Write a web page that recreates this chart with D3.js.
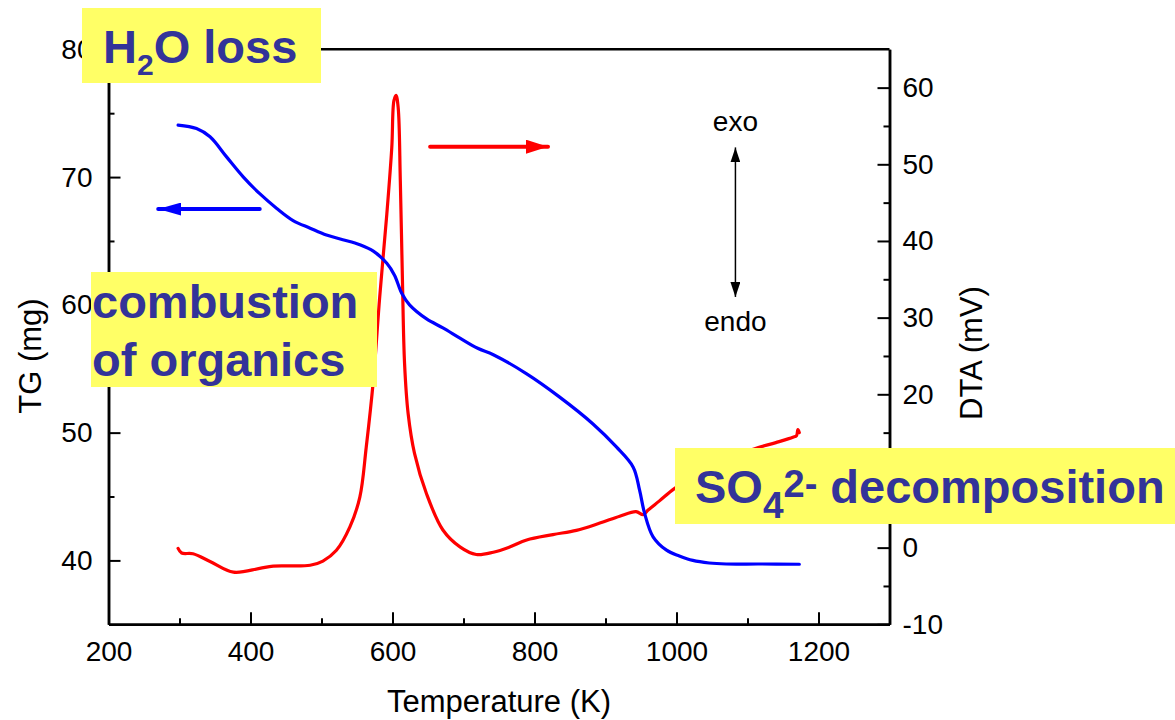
<!DOCTYPE html>
<html>
<head>
<meta charset="utf-8">
<script src="https://cdn.jsdelivr.net/npm/d3@7"></script>
<style>
  body { margin: 0; background: #fff; }
  svg { display: block; font-family: "Liberation Sans", Arial, sans-serif; }
  .axis path { stroke: #000; stroke-width: 2.5; }
  .axis line { stroke: #000; stroke-width: 2; }
  .axis text { font-size: 28px; fill: #000; }
  .note-box { fill: #ffff66; }
  .note { font-weight: bold; fill: #333399; font-size: 47px; }
</style>
</head>
<body>
<svg id="chart" width="1175" height="720"></svg>
<script>
// TG curve (K, mg)
const tgTemp = [298, 324, 343, 366, 390, 413, 437, 460, 484, 507, 530, 554, 573, 592, 603, 613,
  624, 648, 671, 695, 720, 742, 789, 835, 882, 915, 939, 948, 955, 967, 986, 1004, 1023, 1046,
  1070, 1117, 1173];
const tgMass = [74.07, 73.8, 73.15, 71.6, 70.0, 68.7, 67.55, 66.6, 66.0, 65.46, 65.1, 64.7, 64.2,
  63.25, 62.3, 60.9, 60.0, 58.9, 58.2, 57.4, 56.6, 56.1, 54.6, 52.8, 50.7, 48.9, 47.3, 45.5, 43.7,
  41.85, 40.8, 40.35, 40.0, 39.8, 39.72, 39.72, 39.7];

// DTA curve (K, mV)
const dtaTemp = [298, 303, 319, 343, 376, 413, 432, 484, 502, 521, 540, 554, 563, 573, 582, 592,
  599, 602, 605, 608, 611, 614, 617, 622, 631, 648, 671, 695, 718, 742, 765, 789, 826, 859, 892,
  920, 943, 953, 960, 976, 997, 1030, 1070, 1107, 1140, 1164, 1169, 1171, 1173];
const dtaSignal = [-0.1, -0.7, -0.8, -1.8, -3.2, -2.7, -2.4, -2.3, -1.75, -0.35, 2.7, 6.6, 13.1,
  21.8, 32.7, 43.5, 52.2, 58.3, 59.0, 57.4, 47.9, 34.9, 24.0, 17.5, 12.3, 7.0, 2.3, 0.1, -0.9, -0.6,
  0.08, 1.0, 1.7, 2.25, 3.2, 4.1, 4.7, 4.3, 4.9, 6.1, 7.7, 9.6, 11.3, 12.8, 13.7, 14.4, 14.6, 15.4,
  15.0];

// ticks
const xMajor = [200, 400, 600, 800, 1000, 1200];
const xMinor = [300, 500, 700, 900, 1100];
const tgMajor = [40, 50, 60, 70, 80];
const tgMinor = [45, 55, 65, 75];
const dtaMajor = [-10, 0, 10, 20, 30, 40, 50, 60];
const dtaMinor = [-5, 5, 15, 25, 35, 45, 55];

// direction arrows, in data units
const tgArrowT = [413, 270], tgArrowY = 67.5;
const dtaArrowT = [653, 819], dtaArrowY = 52.3;
const exoArrowT = 1083, exoArrowY = [52.2, 32.7];

const svg = d3.select('#chart');
const L = 108.5, R = 889.5, T = 49.3, B = 624.3;
const plain = d => String(d);   // "1000", "-10" like the original

const x = d3.scaleLinear().domain([200, 1300]).range([L, R]);
const yTG = d3.scaleLinear().domain([35, 80]).range([B, T]);
const yDTA = d3.scaleLinear().domain([-10, 65]).range([B, T]);

// — markers ————————————————————————————————————————
const defs = svg.append('defs');
function marker(id, color, w, h) {
  defs.append('marker')
    .attr('id', id)
    .attr('viewBox', `0 0 ${w} ${h}`)
    .attr('refX', w).attr('refY', h / 2)
    .attr('markerUnits', 'userSpaceOnUse')
    .attr('markerWidth', w).attr('markerHeight', h)
    .attr('orient', 'auto-start-reverse')
    .append('path')
    .attr('d', `M0,0L${w},${h / 2}L0,${h}Z`)
    .attr('fill', color);
}
marker('headBlue', '#0000ff', 23, 13);
marker('headRed', '#ff0000', 22, 14);
marker('headBlack', '#000', 15, 10);

// — axes ————————————————————————————————————————————
svg.append('g').attr('class', 'axis')
  .attr('transform', `translate(0,${B})`)
  .call(d3.axisBottom(x).tickValues(xMajor).tickFormat(plain)
    .tickSize(-12).tickSizeOuter(0).tickPadding(17));
svg.append('g').attr('class', 'axis')
  .attr('transform', `translate(0,${B})`)
  .call(d3.axisBottom(x).tickValues(xMinor).tickSize(-6).tickSizeOuter(0).tickFormat(''));

svg.append('g').attr('class', 'axis')
  .attr('transform', `translate(${L},0)`)
  .call(d3.axisLeft(yTG).tickValues(tgMajor).tickFormat(plain)
    .tickSize(-12).tickSizeOuter(0).tickPadding(16));
svg.append('g').attr('class', 'axis')
  .attr('transform', `translate(${L},0)`)
  .call(d3.axisLeft(yTG).tickValues(tgMinor).tickSize(-6).tickSizeOuter(0).tickFormat(''));

svg.append('g').attr('class', 'axis')
  .attr('transform', `translate(${R},0)`)
  .call(d3.axisRight(yDTA).tickValues(dtaMajor).tickFormat(plain)
    .tickSize(-12).tickSizeOuter(0).tickPadding(13));
svg.append('g').attr('class', 'axis')
  .attr('transform', `translate(${R},0)`)
  .call(d3.axisRight(yDTA).tickValues(dtaMinor).tickSize(-6).tickSizeOuter(0).tickFormat(''));

// top frame line
svg.append('line')
  .attr('x1', L).attr('x2', R).attr('y1', T).attr('y2', T)
  .attr('stroke', '#000').attr('stroke-width', 2.5);

// axis titles
svg.append('text')
  .attr('x', (L + R) / 2).attr('y', 712)
  .attr('text-anchor', 'middle').attr('font-size', 31)
  .text('Temperature (K)');
svg.append('text')
  .attr('transform', 'translate(41,356) rotate(-90)')
  .attr('text-anchor', 'middle').attr('font-size', 31)
  .text('TG (mg)');
svg.append('text')
  .attr('transform', 'translate(982,353) rotate(-90)')
  .attr('text-anchor', 'middle').attr('font-size', 31)
  .text('DTA (mV)');

// — curves ——————————————————————————————————————————
const tgLine = d3.line()
  .x((d, i) => x(tgTemp[i]))
  .y(d => yTG(d))
  .curve(d3.curveCatmullRom.alpha(0.5));
const dtaLine = d3.line()
  .x((d, i) => x(dtaTemp[i]))
  .y(d => yDTA(d))
  .curve(d3.curveCatmullRom.alpha(0.5));

svg.append('path')
  .attr('d', dtaLine(dtaSignal))
  .attr('fill', 'none').attr('stroke', '#ff0000').attr('stroke-width', 3.2)
  .attr('stroke-linejoin', 'round').attr('stroke-linecap', 'round');
svg.append('path')
  .attr('d', tgLine(tgMass))
  .attr('fill', 'none').attr('stroke', '#0000ff').attr('stroke-width', 3.2)
  .attr('stroke-linejoin', 'round').attr('stroke-linecap', 'round');

// — arrows ——————————————————————————————————————————
svg.append('line')
  .attr('x1', x(tgArrowT[0])).attr('x2', x(tgArrowT[1]))
  .attr('y1', yTG(tgArrowY)).attr('y2', yTG(tgArrowY))
  .attr('stroke', '#0000ff').attr('stroke-width', 4).attr('stroke-linecap', 'round')
  .attr('marker-end', 'url(#headBlue)');
svg.append('line')
  .attr('x1', x(dtaArrowT[0])).attr('x2', x(dtaArrowT[1]))
  .attr('y1', yDTA(dtaArrowY)).attr('y2', yDTA(dtaArrowY))
  .attr('stroke', '#ff0000').attr('stroke-width', 4).attr('stroke-linecap', 'round')
  .attr('marker-end', 'url(#headRed)');
svg.append('line')
  .attr('x1', x(exoArrowT)).attr('x2', x(exoArrowT))
  .attr('y1', yDTA(exoArrowY[0])).attr('y2', yDTA(exoArrowY[1]))
  .attr('stroke', '#000').attr('stroke-width', 1.5)
  .attr('marker-start', 'url(#headBlack)')
  .attr('marker-end', 'url(#headBlack)');

svg.append('text')
  .attr('x', x(exoArrowT)).attr('y', 131)
  .attr('text-anchor', 'middle').attr('font-size', 28)
  .text('exo');
svg.append('text')
  .attr('x', x(exoArrowT)).attr('y', 331)
  .attr('text-anchor', 'middle').attr('font-size', 28)
  .text('endo');

// — highlighted notes ——————————————————————————————
svg.append('rect').attr('class', 'note-box')
  .attr('x', 82).attr('y', 8).attr('width', 239).attr('height', 75);
const h2o = svg.append('text').attr('class', 'note').attr('x', 103).attr('y', 63);
h2o.append('tspan').text('H');
h2o.append('tspan').attr('dy', 12).attr('font-size', 30).text('2');
h2o.append('tspan').attr('dy', -12).text('O loss');

svg.append('rect').attr('class', 'note-box')
  .attr('x', 91).attr('y', 272).attr('width', 286).attr('height', 115);
svg.append('text').attr('class', 'note').attr('x', 92).attr('y', 318).text('combustion');
svg.append('text').attr('class', 'note').attr('x', 92).attr('y', 376).text('of organics');

svg.append('rect').attr('class', 'note-box')
  .attr('x', 675).attr('y', 448).attr('width', 500).attr('height', 76);
const so4 = svg.append('text').attr('class', 'note').attr('x', 695).attr('y', 503);
so4.append('tspan').text('SO');
so4.append('tspan').attr('dy', 15).attr('font-size', 37).text('4');
so4.append('tspan').attr('dy', -21).attr('font-size', 38).text('2-');
so4.append('tspan').attr('dy', 6).text(' decomposition');
</script>
</body>
</html>
